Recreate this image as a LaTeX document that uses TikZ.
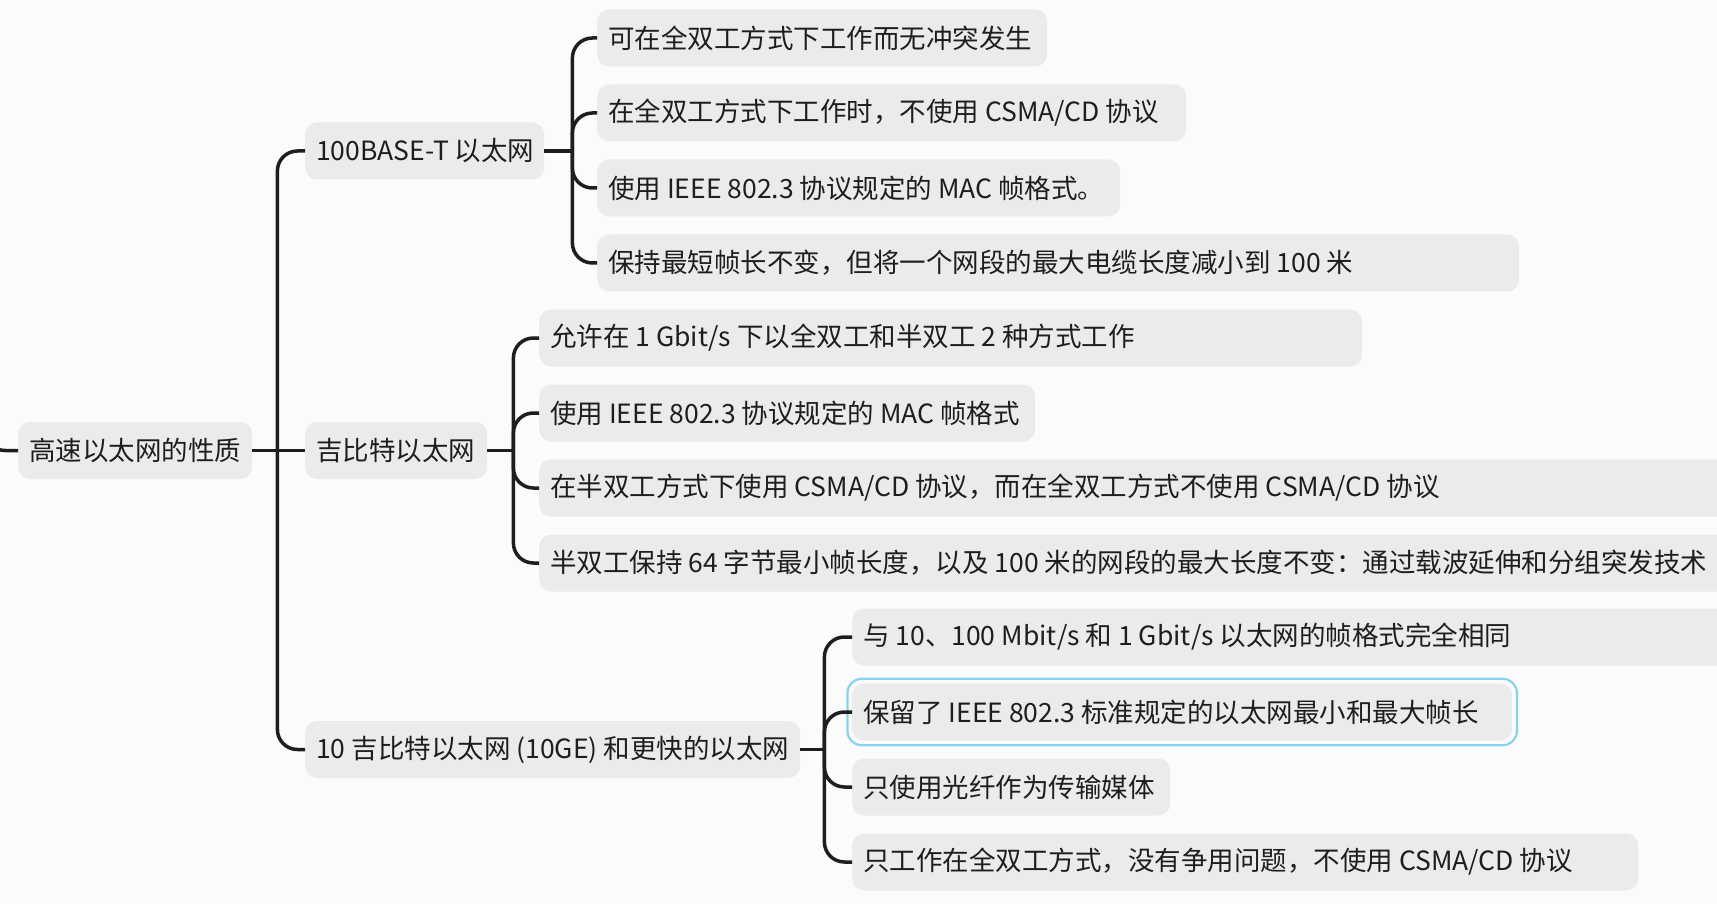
\documentclass[tikz,border=0pt]{standalone}
\usepackage{fontspec}
\usepackage{xcolor}
\newfontfamily\cjk{Noto Sans CJK SC}
\definecolor{bg}{HTML}{FBFBFB}
\definecolor{boxgray}{HTML}{EBEBEB}
\definecolor{ink}{HTML}{1E1E1E}
\definecolor{selblue}{HTML}{86D2EE}
\tikzset{
  topic/.style={fill=boxgray, rounded corners=12pt, inner xsep=11pt, inner ysep=0pt,
    minimum height=57pt, anchor=west, text=ink, font=\cjk\fontsize{26.5}{30}\selectfont,
    execute at begin node={\hbox to \dimexpr#1pt-22pt\relax\bgroup},
    execute at end node={\hss\egroup}},
  link/.style={line width=3.5pt, draw=ink},
}

\begin{document}
\begin{tikzpicture}[x=1pt, y=-1pt]
   % \draw[step=100pt,gray,very thin] (0,0) grid (1717,904);
   \fill[bg] (0,0) rectangle (1717,904);
   \clip (0,0) rectangle (1717,904);
    \node[topic=234] (root) at (18,450.5) {高速以太网的性质};
    \node[topic=239] (fast) at (305,151) {100BASE-T 以太网};
    \node[topic=182] (gig) at (305,450.5) {吉比特以太网};
    \node[topic=495] (tengig) at (305,749.5) {10 吉比特以太网 (10GE) 和更快的以太网};

    \node[topic=450] (fa1) at (597,38) {可在全双工方式下工作而无冲突发生};
    \node[topic=589] (fa2) at (597,113) {在全双工方式下工作时，不使用 CSMA/CD 协议};
    \node[topic=523] (fa3) at (597,188) {使用 IEEE 802.3 协议规定的 MAC 帧格式。};
    \node[topic=922] (fa4) at (597,263) {保持最短帧长不变，但将一个网段的最大电缆长度减小到 100 米};

    \node[topic=823] (gi1) at (539,338) {允许在 1 Gbit/s 下以全双工和半双工 2 种方式工作};
    \node[topic=496] (gi2) at (539,413) {使用 IEEE 802.3 协议规定的 MAC 帧格式};
    \node[topic=1190] (gi3) at (539,488) {在半双工方式下使用 CSMA/CD 协议，而在全双工方式不使用 CSMA/CD 协议};
    \node[topic=1190] (gi4) at (539,563) {半双工保持 64 字节最小帧长度，以及 100 米的网段的最大长度不变：通过载波延伸和分组突发技术};

    \node[topic=880] (te1) at (852,637) {与 10、100 Mbit/s 和 1 Gbit/s 以太网的帧格式完全相同};
    \node[topic=660] (te2) at (852,712) {保留了 IEEE 802.3 标准规定的以太网最小和最大帧长};
    \node[topic=318] (te3) at (852,787) {只使用光纤作为传输媒体};
    \node[topic=786] (te4) at (852,862) {只工作在全双工方式，没有争用问题，不使用 CSMA/CD 协议};
    % selected topic
    \draw[selblue, line width=2.2pt, rounded corners=14pt] ([shift={(-4.5,-4.5)}]te2.north west) rectangle ([shift={(4.5,4.5)}]te2.south east);

    % connectors
    \coordinate (up) at (-15,380);
    \draw[link, rounded corners=20pt] (root.west) -| (up);
    \coordinate (t0) at ([xshift=25pt]root.east);
    \draw[link] (root.east) -- (gig.west);
    \draw[link, rounded corners=20pt] (t0) |- (fast.west);
    \draw[link, rounded corners=20pt] (t0) |- (tengig.west);

    \coordinate (t1) at ([xshift=28pt]fast.east);
    \draw[link] (fast.east) -- (t1);
    \draw[link, rounded corners=20pt] (t1) |- (fa1.west);
    \draw[link, rounded corners=20pt] (t1) |- (fa2.west);
    \draw[link, rounded corners=20pt] (t1) |- (fa3.west);
    \draw[link, rounded corners=20pt] (t1) |- (fa4.west);

    \coordinate (t2) at ([xshift=26pt]gig.east);
    \draw[link] (gig.east) -- (t2);
    \draw[link, rounded corners=20pt] (t2) |- (gi1.west);
    \draw[link, rounded corners=20pt] (t2) |- (gi2.west);
    \draw[link, rounded corners=20pt] (t2) |- (gi3.west);
    \draw[link, rounded corners=20pt] (t2) |- (gi4.west);

    \coordinate (t3) at ([xshift=24pt]tengig.east);
    \draw[link] (tengig.east) -- (t3);
    \draw[link, rounded corners=20pt] (t3) |- (te1.west);
    \draw[link, rounded corners=20pt] (t3) |- (te2.west);
    \draw[link, rounded corners=20pt] (t3) |- (te3.west);
    \draw[link, rounded corners=20pt] (t3) |- (te4.west);
    \end{tikzpicture}
\end{document}
